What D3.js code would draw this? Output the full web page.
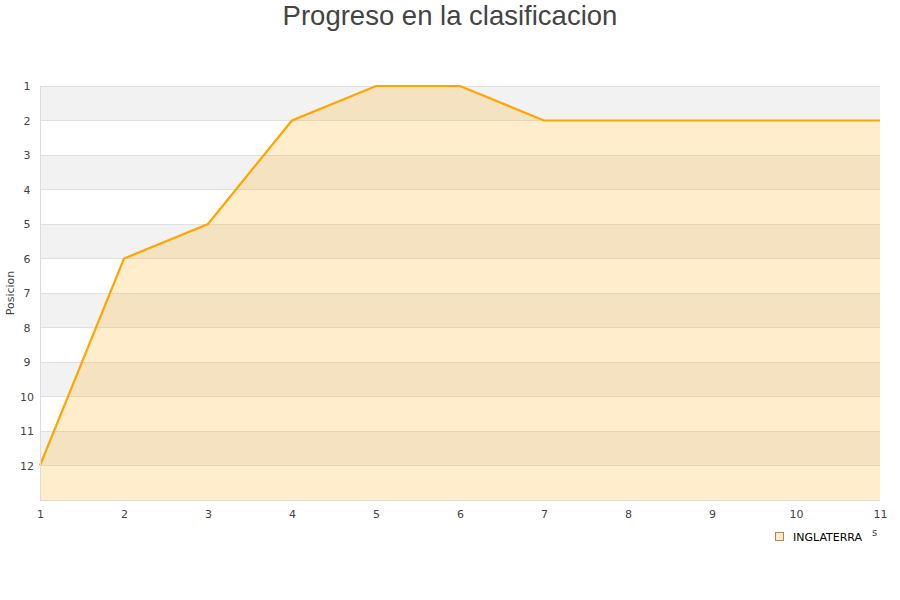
<!DOCTYPE html>
<html><head><meta charset="utf-8">
<script src="https://cdn.jsdelivr.net/npm/d3@7"></script>
<style>body{margin:0;background:#fff}</style>
</head><body>
<svg id="c" width="900" height="600"></svg>
<script>
const jornadas = [1,2,3,4,5,6,7,8,9,10,11];
const posiciones = [12,6,5,2,1,1,2,2,2,2,2];
const yTicks = [1,2,3,4,5,6,7,8,9,10,11,12];
const serieNombre = "INGLATERRA";
const titulo = "Progreso en la clasificacion";
const yTitulo = "Posicion";

const svg = d3.select("#c");
const m = {l:40, r:20, t:86, b:100};
const W = 900, H = 600;
const x = d3.scaleLinear().domain([1,11]).range([m.l, W-m.r]);
const y = d3.scaleLinear().domain([1,13]).range([m.t, H-m.b]);

const g = svg.append("g");
yTicks.filter(v => v % 2 === 1).forEach(v => {
  g.append("rect").attr("x", x(1)).attr("width", x(11)-x(1))
    .attr("y", y(v)).attr("height", y(v+1)-y(v)).attr("fill", "#f2f2f2");
});
yTicks.forEach(v => {
  g.append("line").attr("x1", x(1)).attr("x2", x(11)).attr("y1", y(v)).attr("y2", y(v))
    .attr("stroke", "#e0e0e0").attr("stroke-width", 1).attr("shape-rendering","crispEdges");
});

const data = jornadas.map((j,i)=>({j, p: posiciones[i]}));
const area = d3.area().x(d=>x(d.j)).y0(y(13)).y1(d=>y(d.p));
svg.append("path").datum(data).attr("d", area).attr("fill", "#ffa500").attr("fill-opacity", 0.2);
const line = d3.line().x(d=>x(d.j)).y(d=>y(d.p));
svg.append("path").datum(data).attr("d", line).attr("fill","none").attr("stroke","#ffa500").attr("stroke-width",2.2);

svg.append("line").attr("x1", x(1)+0.5).attr("x2", x(1)+0.5).attr("y1", y(1)).attr("y2", y(13)).attr("stroke","#dcdcdc");
svg.append("line").attr("x1", x(1)).attr("x2", x(11)).attr("y1", y(13)+0.5).attr("y2", y(13)+0.5).attr("stroke","#dcdcdc");

const yAxis = d3.axisLeft(y).tickValues(yTicks).tickSize(0).tickPadding(9);
const ya = svg.append("g").attr("transform", `translate(${m.l},0)`).call(yAxis);
ya.select(".domain").remove();
ya.selectAll("text").attr("font-family","DejaVu Sans").attr("font-size",11).attr("fill","#444").attr("text-anchor","middle").attr("x",-13);

const xAxis = d3.axisBottom(x).tickValues(jornadas).tickSize(0).tickPadding(10).tickFormat(d3.format("d"));
const xa = svg.append("g").attr("transform", `translate(0,${y(13)})`).call(xAxis);
xa.select(".domain").remove();
xa.selectAll("text").attr("font-family","DejaVu Sans").attr("font-size",11).attr("fill","#444");

svg.append("text").attr("x", 450).attr("y", 25).attr("text-anchor","middle")
  .attr("font-family","Liberation Sans, Arial, sans-serif").attr("font-size",27.5).attr("fill","#444").text(titulo);
svg.append("text").attr("transform","translate(14,293) rotate(-90)").attr("text-anchor","middle")
  .attr("font-family","DejaVu Sans").attr("font-size",11).attr("fill","#444").text(yTitulo);

svg.append("rect").attr("x",775.5).attr("y",532.5).attr("width",8).attr("height",8)
  .attr("fill","#ffebcc").attr("stroke","#b08850").attr("stroke-width",1);
svg.append("text").attr("x",793).attr("y",541).attr("font-family","DejaVu Sans").attr("font-size",11).attr("fill","#000").text(serieNombre);
svg.append("text").attr("x",872).attr("y",536).attr("font-family","DejaVu Sans").attr("font-size",10).attr("fill","#444").text("s");
</script>
</body></html>
